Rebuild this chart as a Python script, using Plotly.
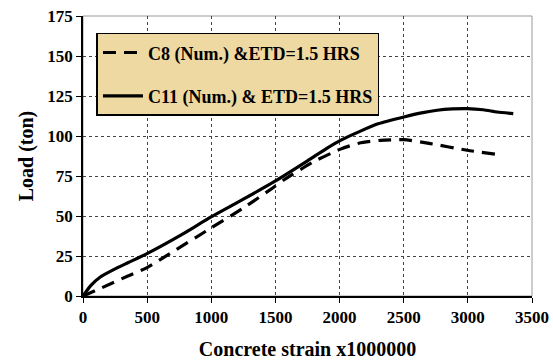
import plotly.graph_objects as go

# C11 (Num.) solid
c11_strain = [0, 60, 135, 239, 350, 499, 759, 998, 1250, 1487, 1750, 1900, 2007, 2150, 2300, 2501, 2650, 2761, 2880, 2995, 3120, 3229, 3354]
c11_load = [0, 6.5, 11.9, 16.5, 20.8, 26.5, 37.9, 49.4, 60.5, 71.3, 84.5, 92.3, 97.3, 102.6, 107.6, 111.9, 114.6, 116.1, 116.9, 117.1, 116.4, 115.0, 114.0]

# C8 (Num.) dashed
c8_strain = [0, 148, 350, 499, 655, 998, 1250, 1487, 1565, 1800, 2007, 2150, 2319, 2501, 2709, 2995, 3217]
c8_load = [0, 5.2, 12.5, 17.7, 25.4, 42.5, 55.0, 68.0, 72.5, 84.0, 91.8, 95.5, 97.3, 97.7, 95.2, 91.1, 88.6]

x_ticks = [0, 500, 1000, 1500, 2000, 2500, 3000, 3500]
y_ticks = [0, 25, 50, 75, 100, 125, 150, 175]

FONT = "serif"

fig = go.Figure()
fig.add_trace(go.Scatter(
    x=c8_strain, y=c8_load, mode="lines", name="<b>C8 (Num.) &ETD=1.5 HRS</b>",
    line=dict(color="black", width=3.2, dash="13px,8px", shape="spline", smoothing=0.6), legendgroup="a"))
fig.add_trace(go.Scatter(
    x=c11_strain, y=c11_load, mode="lines", name="<b>C11 (Num.) & ETD=1.5 HRS</b>",
    line=dict(color="black", width=3.2, shape="spline", smoothing=0.6), legendgroup="b"))

fig.update_layout(
    template="none",
    width=553, height=360,
    margin=dict(l=83, r=21, t=16, b=64),
    paper_bgcolor="white", plot_bgcolor="white",
    font=dict(family=FONT, color="black", size=17),
    showlegend=True,
    legend=dict(
        x=0.03, y=0.94, xanchor="left", yanchor="top",
        bgcolor="#efd9a3", bordercolor="black", borderwidth=1.5,
        font=dict(family=FONT, size=18, color="black"),
        tracegroupgap=17, traceorder="grouped", itemwidth=40,
    ),
    xaxis=dict(
        range=[0, 3500], tickvals=x_ticks, ticktext=[f"<b>{v}</b>" for v in x_ticks],
        tickfont=dict(family=FONT, size=17, color="black"),
        showgrid=True, gridcolor="#444", griddash="dot", gridwidth=1,
        showline=True, linecolor="black", linewidth=1.5, mirror=False,
        ticks="outside", ticklen=5, tickcolor="black", zeroline=False, automargin=False,
        title=dict(text="<b>Concrete strain x1000000</b>", font=dict(size=20, family=FONT), standoff=18),
    ),
    yaxis=dict(
        range=[0, 175], tickvals=y_ticks, ticktext=[f"<b>{v}</b>" for v in y_ticks],
        tickfont=dict(family=FONT, size=17, color="black"),
        showgrid=True, gridcolor="#444", griddash="dot", gridwidth=1,
        showline=True, linecolor="black", linewidth=1.5, automargin=False,
        ticks="outside", ticklen=5, tickcolor="black", zeroline=False,
        title=dict(text="<b>Load (ton)</b>", font=dict(size=20, family=FONT), standoff=8),
    ),
    shapes=[dict(type="rect", xref="paper", yref="paper", x0=0, y0=0, x1=1, y1=1,
                 line=dict(color="#999", width=1), layer="below")],
)

fig.write_html("out.html")
